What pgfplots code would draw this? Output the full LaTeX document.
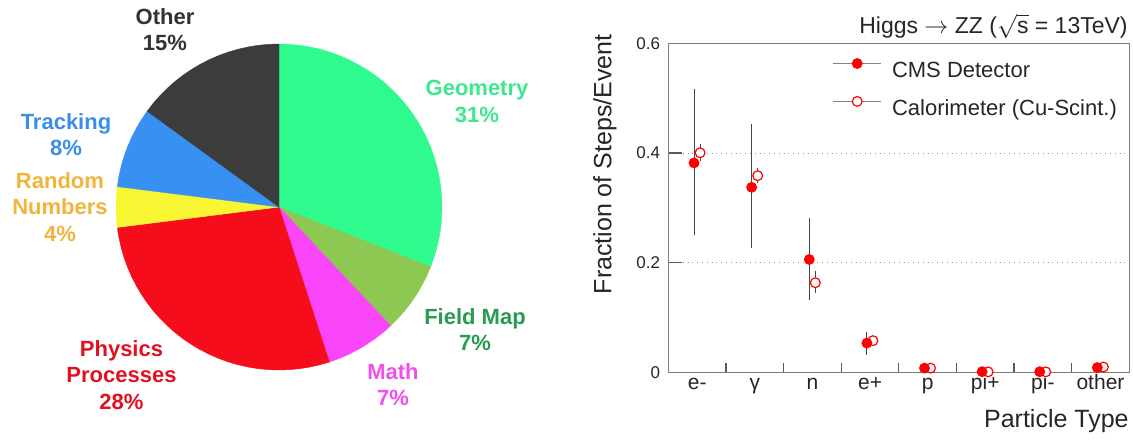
\documentclass[border=0pt]{standalone}
\usepackage{pgfplots}
\pgfplotsset{compat=1.18}
\usepackage{fontspec}
\setmainfont{Liberation Sans}
\definecolor{wGeo}{RGB}{46,250,142}
\definecolor{wField}{RGB}{141,200,82}
\definecolor{wMath}{RGB}{250,70,250}
\definecolor{wPhys}{RGB}{246,13,28}
\definecolor{wRand}{RGB}{248,245,51}
\definecolor{wTrack}{RGB}{56,144,242}
\definecolor{wOther}{RGB}{60,60,60}
\definecolor{tGeo}{RGB}{60,232,142}
\definecolor{tField}{RGB}{40,155,80}
\definecolor{tMath}{RGB}{238,80,238}
\definecolor{tPhys}{RGB}{226,16,32}
\definecolor{tRand}{RGB}{240,180,60}
\definecolor{tTrack}{RGB}{58,142,232}
\definecolor{tOther}{RGB}{50,50,50}
\definecolor{framec}{RGB}{125,125,125}
\definecolor{tickc}{RGB}{90,90,90}
\definecolor{errc}{RGB}{70,70,70}
\definecolor{gridc}{RGB}{150,150,150}
\definecolor{legc}{RGB}{130,130,130}
\begin{document}
\begin{tikzpicture}[x=0.5pt,y=0.5pt]
\useasboundingbox (0,0) rectangle (1134,440);
% ---------------- pie ----------------
\begin{axis}[at={(58pt,35pt)}, anchor=south west, hide axis, scale only axis,
  width=163pt, height=163pt, xmin=-1, xmax=1, ymin=-1, ymax=1, clip=false]
\addplot[fill=wGeo, draw=wGeo, line width=0.2pt, data cs=polar] coordinates {(0,0) (90,1) (86.4,1) (82.8,1) (79.2,1) (75.6,1) (72,1) (68.4,1) (64.8,1) (61.2,1) (57.6,1) (54,1) (50.4,1) (46.8,1) (43.2,1) (39.6,1) (36,1) (32.4,1) (28.8,1) (25.2,1) (21.6,1) (18,1) (14.4,1) (10.8,1) (7.2,1) (3.6,1) (0,1) (-3.6,1) (-7.2,1) (-10.8,1) (-14.4,1) (-18,1) (-21.6,1)} -- cycle;
\addplot[fill=wField, draw=wField, line width=0.2pt, data cs=polar] coordinates {(0,0) (-21.6,1) (-25.2,1) (-28.8,1) (-32.4,1) (-36,1) (-39.6,1) (-43.2,1) (-46.8,1)} -- cycle;
\addplot[fill=wMath, draw=wMath, line width=0.2pt, data cs=polar] coordinates {(0,0) (-46.8,1) (-50.4,1) (-54,1) (-57.6,1) (-61.2,1) (-64.8,1) (-68.4,1) (-72,1)} -- cycle;
\addplot[fill=wPhys, draw=wPhys, line width=0.2pt, data cs=polar] coordinates {(0,0) (-72,1) (-75.6,1) (-79.2,1) (-82.8,1) (-86.4,1) (-90,1) (-93.6,1) (-97.2,1) (-100.8,1) (-104.4,1) (-108,1) (-111.6,1) (-115.2,1) (-118.8,1) (-122.4,1) (-126,1) (-129.6,1) (-133.2,1) (-136.8,1) (-140.4,1) (-144,1) (-147.6,1) (-151.2,1) (-154.8,1) (-158.4,1) (-162,1) (-165.6,1) (-169.2,1) (-172.8,1)} -- cycle;
\addplot[fill=wRand, draw=wRand, line width=0.2pt, data cs=polar] coordinates {(0,0) (-172.8,1) (-176.4,1) (-180,1) (-183.6,1) (-187.2,1)} -- cycle;
\addplot[fill=wTrack, draw=wTrack, line width=0.2pt, data cs=polar] coordinates {(0,0) (-187.2,1) (-190.8,1) (-194.4,1) (-198,1) (-201.6,1) (-205.2,1) (-208.8,1) (-212.4,1) (-216,1)} -- cycle;
\addplot[fill=wOther, draw=wOther, line width=0.2pt, data cs=polar] coordinates {(0,0) (-216,1) (-219.6,1) (-223.2,1) (-226.8,1) (-230.4,1) (-234,1) (-237.6,1) (-241.2,1) (-244.8,1) (-248.4,1) (-252,1) (-255.6,1) (-259.2,1) (-262.8,1) (-266.4,1) (-270,1)} -- cycle;
\end{axis}
% pie labels
\begin{scope}[every node/.style={font=\bfseries\fontsize{11}{13.2}\selectfont, align=center, inner sep=0pt}]
\node[text=tOther] at (165,410.5) {Other\\15\%};
\node[text=tGeo] at (477,338.5) {Geometry\\31\%};
\node[text=tField] at (475,110.5) {Field Map\\7\%};
\node[text=tMath] at (393,55.5) {Math\\7\%};
\node[text=tPhys] at (121.5,65) {Physics\\Processes\\28\%};
\node[text=tRand] at (60,233) {Random\\Numbers\\4\%};
\node[text=tTrack] at (66,305.5) {Tracking\\8\%};
\end{scope}
% ---------------- particle fractions ----------------
\begin{axis}[at={(334.2pt,33.75pt)}, anchor=south west, scale only axis,
  width=230.45pt, height=164.6pt,
  xmin=-0.5, xmax=7.5, ymin=0, ymax=0.6,
  axis line style={draw=framec, line width=0.6pt},
  tick align=inside, xtick pos=bottom, ytick pos=left,
  xtick={0,1,2,3,4,5,6,7},
  xticklabels={e-,γ,n,e+,p,pi+,pi-,other},
  major x tick style={draw=none},
  minor xtick={0.5,1.5,2.5,3.5,4.5,5.5,6.5},
  minor x tick style={draw=tickc, line width=0.6pt},
  minor tick length=4.75pt,
  ytick={0,0.2,0.4,0.6},
  major y tick style={draw=tickc, line width=0.6pt},
  major tick length=7pt,
  ymajorgrids, grid style={draw=gridc, dotted, line width=0.5pt},
  /pgf/number format/assume math mode=true,
  yticklabel style={font=\fontsize{8.5}{10}\selectfont, anchor=east, inner sep=0pt, xshift=-4pt, text=black!85},
  xticklabel style={font=\fontsize{10.5}{12}\selectfont, anchor=base, inner sep=0pt, yshift=-8.25pt, text=black!85},
  reverse legend,
  legend cell align=left,
  legend style={draw=none, fill=none, inner sep=0pt, at={(0.355,0.955)}, anchor=north west,
    nodes={inner sep=0pt, font=\fontsize{11}{13}\selectfont, text=black!85},
    row sep=8pt, /tikz/every odd column/.append style={column sep=5pt}},
  legend image code/.code={
    \draw[legc, line width=0.8pt, mark=none] (0pt,3.9pt) -- (24pt,3.9pt);
    \draw plot coordinates {(12pt,3.9pt)};
  },
  clip=false]
\addplot[only marks, mark=*, mark size=2.45pt, mark options={draw=red, fill=white, line width=0.6pt},
  error bars/.cd, y dir=both, y explicit,
  error bar style={draw=errc, line width=0.5pt},
  error mark options={draw=errc, line width=0.5pt, mark size=0.8pt}]
  coordinates {
  (0.05,0.4005) += (0,0.0125) -= (0,0.0125)
  (1.05,0.3587) += (0,0.0105) -= (0,0.0105)
  (2.05,0.1636) += (0,0.019) -= (0,0.0156)
  (3.05,0.058) += (0,0.004) -= (0,0.004)
  (4.05,0.008) += (0,0.001) -= (0,0.001)
  (5.05,0.0012) += (0,0.0005) -= (0,0.0005)
  (6.05,0.0012) += (0,0.0005) -= (0,0.0005)
  (7.05,0.010) += (0,0.001) -= (0,0.001)
  };
\addlegendentry{Calorimeter (Cu-Scint.)}
\addplot[only marks, mark=*, mark size=2.5pt, mark options={draw=red, fill=red},
  error bars/.cd, y dir=both, y explicit,
  error bar style={draw=errc, line width=0.5pt},
  error mark options={draw=errc, line width=0.5pt, mark size=0.8pt}]
  coordinates {
  (-0.055,0.382) += (0,0.131) -= (0,0.129)
  (0.945,0.3375) += (0,0.112) -= (0,0.1085)
  (1.945,0.206) += (0,0.073) -= (0,0.0715)
  (2.945,0.0536) += (0,0.0164) -= (0,0.0186)
  (3.945,0.008) += (0,0.002) -= (0,0.002)
  (4.945,0.0015) += (0,0.0005) -= (0,0.0005)
  (5.945,0.0015) += (0,0.0005) -= (0,0.0005)
  (6.945,0.009) += (0,0.001) -= (0,0.001)
  };
\addlegendentry{CMS Detector}
\end{axis}
% axis titles
\node[font=\fontsize{12.5}{14}\selectfont, rotate=90, anchor=east, inner sep=0pt, text=black!85] at (605,406) {Fraction of Steps/Event};
\node[font=\fontsize{12.5}{14}\selectfont, anchor=base east, inner sep=0pt, text=black!85] at (1129,13) {Particle Type};
\node[font=\fontsize{11.5}{13}\selectfont, anchor=base east, inner sep=0pt, text=black!85] at (1128,406) {Higgs $\rightarrow$ ZZ ($\sqrt{\hbox{s}}$ = 13TeV)};
\end{tikzpicture}
\end{document}
